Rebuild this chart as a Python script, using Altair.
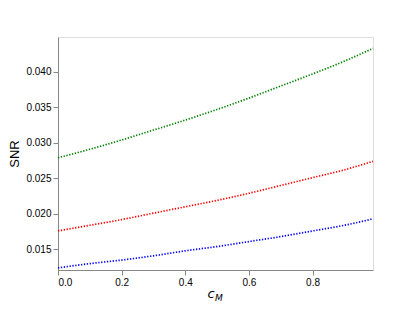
import altair as alt
import pandas as pd

x_vals = [0.0, 0.1, 0.2, 0.3, 0.4, 0.5, 0.6, 0.7, 0.8, 0.9, 0.99]
green_vals = [0.0279, 0.0291, 0.0304, 0.0318, 0.0332, 0.0347, 0.0363, 0.0380, 0.0397, 0.0415, 0.0433]
red_vals = [0.0176, 0.0184, 0.0192, 0.0201, 0.0210, 0.0219, 0.0229, 0.0240, 0.0251, 0.0262, 0.0274]
blue_vals = [0.0124, 0.0130, 0.0135, 0.0141, 0.0148, 0.0154, 0.0161, 0.0168, 0.0176, 0.0184, 0.0193]
series_names = ["green", "red", "blue"]
series_colors = ["#008000", "#ff0000", "#0000ff"]

rows = []
for name, vals in zip(series_names, [green_vals, red_vals, blue_vals]):
    for xv, yv in zip(x_vals, vals):
        rows.append({"x": xv, "y": yv, "series": name})
df = pd.DataFrame(rows)

W, H = 315, 233
FONT = "DejaVu Sans"

lines = alt.Chart(df).mark_line(strokeDash=[1.3, 1.6], strokeWidth=1.7, interpolate="monotone").encode(
    x=alt.X("x:Q", scale=alt.Scale(domain=[0, 0.99], nice=False, zero=False),
            axis=alt.Axis(values=[0, 0.2, 0.4, 0.6, 0.8], format=".1f", title=None, grid=False)),
    y=alt.Y("y:Q", scale=alt.Scale(domain=[0.0121, 0.0449], nice=False, zero=False),
            axis=alt.Axis(values=[0.015, 0.020, 0.025, 0.030, 0.035, 0.040], format=".3f", grid=False,
                          title="SNR", titleFontSize=13, titleFontWeight="normal", titlePadding=4)),
    color=alt.Color("series:N", scale=alt.Scale(domain=series_names, range=series_colors), legend=None),
    detail="series:N",
)

c_text = alt.Chart(pd.DataFrame({"t": ["c"]})).mark_text(
    font=FONT, fontSize=13, fontStyle="italic", align="center", baseline="alphabetic"
).encode(text="t:N", x=alt.value(153), y=alt.value(261))

m_text = alt.Chart(pd.DataFrame({"t": ["M"]})).mark_text(
    font=FONT, fontSize=9, fontStyle="italic", align="left", baseline="alphabetic"
).encode(text="t:N", x=alt.value(157), y=alt.value(264))

chart = alt.layer(lines, c_text, m_text).properties(
    width=W, height=H,
    autosize=alt.AutoSizeParams(type="none"),
    padding={"left": 50, "top": 29, "right": 20, "bottom": 40},
).configure_view(
    stroke="black", strokeWidth=1
).configure_axis(
    labelFont=FONT, titleFont=FONT, labelFontSize=9.5, labelColor="black",
    tickColor="black", tickSize=3.5, labelPadding=2, domain=False, grid=False,
    titleColor="black"
).configure(background="white")

chart.save("out.html", embed_options={"renderer": "svg", "actions": False})
